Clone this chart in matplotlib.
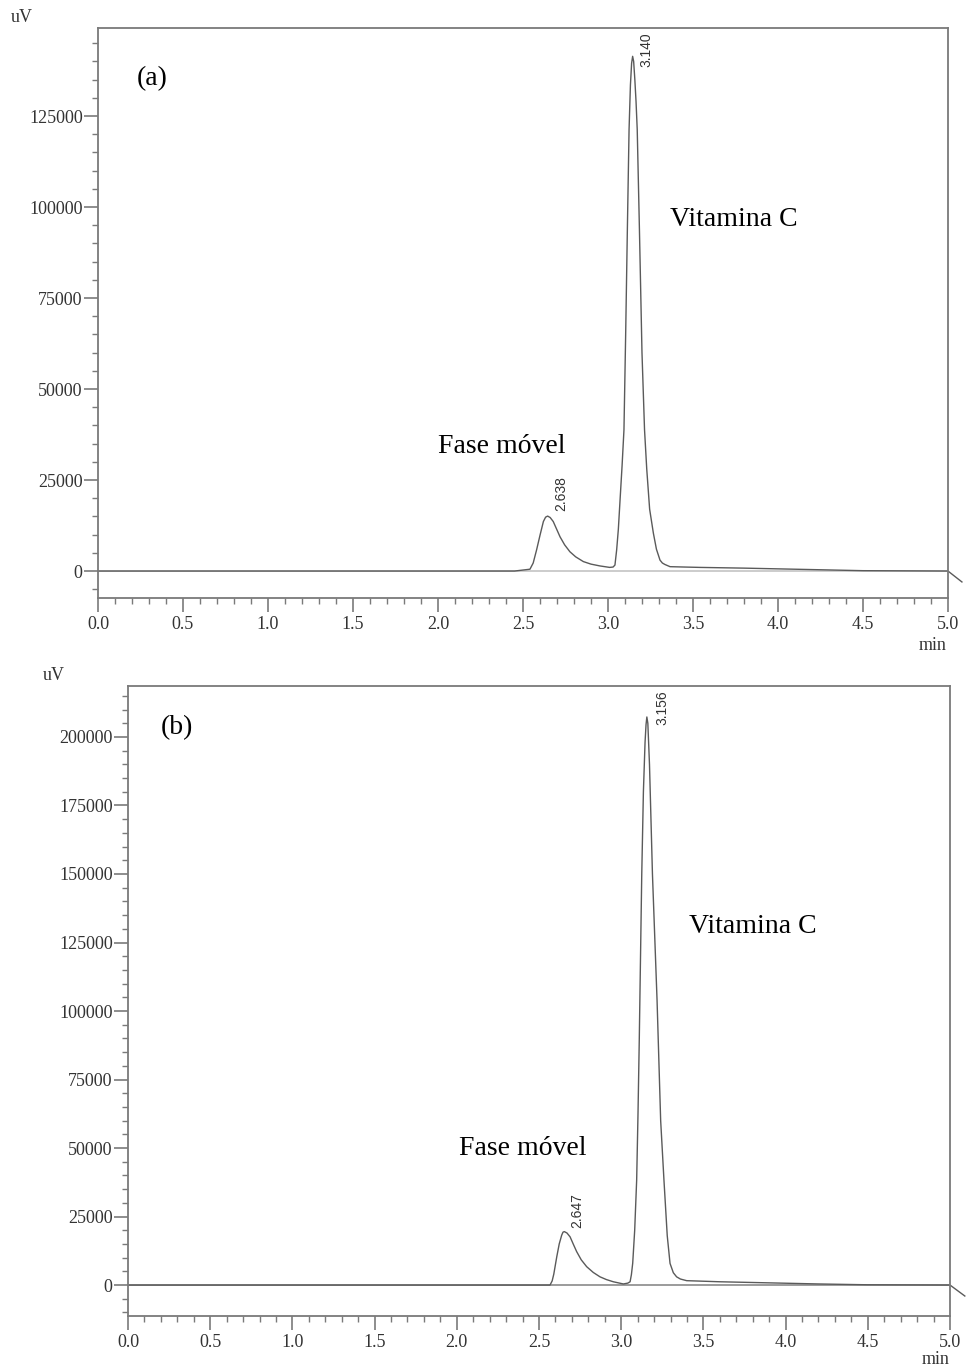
import numpy as np
import matplotlib
matplotlib.use("Agg")
import matplotlib.pyplot as plt
from matplotlib.ticker import MultipleLocator, FormatStrFormatter

# --- Chromatogram (a): retention time (min) vs signal (uV)
time_a = [0.0, 1.0, 2.0, 2.45, 2.541, 2.56, 2.58, 2.60, 2.62, 2.633, 2.645,
          2.66, 2.678, 2.698, 2.718, 2.745, 2.776, 2.81, 2.855, 2.90, 2.953,
          3.01, 3.03, 3.041, 3.051, 3.061, 3.071, 3.083, 3.094, 3.104, 3.114,
          3.124, 3.132, 3.139, 3.145, 3.151, 3.158, 3.165, 3.172, 3.185, 3.20,
          3.215, 3.228, 3.245, 3.267, 3.285, 3.306, 3.32, 3.335, 3.365, 3.45,
          3.54, 3.8, 4.0, 4.2, 4.5, 5.0, 5.082]
signal_a = [0, 0, 0, 0, 500, 2200, 5800, 9800, 13600, 14800, 15100,
            14700, 13600, 11500, 9400, 7200, 5300, 3900, 2600, 1900, 1400,
            1000, 1100, 1650, 5800, 11500, 19500, 29000, 38800, 65000, 93800,
            121300, 133500, 139500, 141400, 140000, 135000, 129000, 121300, 93800, 60000,
            38800, 28000, 17000, 10400, 6000, 3000, 2200, 1800, 1200, 1100,
            1000, 800, 600, 400, 100, 0, -3000]

# --- Chromatogram (b)
time_b = [0.0, 1.0, 2.0, 2.567, 2.58, 2.59, 2.608, 2.623, 2.638, 2.646, 2.654,
          2.67, 2.689, 2.708, 2.729, 2.757, 2.79, 2.83, 2.871, 2.91, 2.952,
          3.013, 3.04, 3.054, 3.062, 3.07, 3.082, 3.094, 3.102, 3.11, 3.125,
          3.135, 3.145, 3.151, 3.156, 3.162, 3.172, 3.19, 3.218, 3.24, 3.26,
          3.28, 3.297, 3.317, 3.337, 3.36, 3.398, 3.6, 3.9, 4.2, 4.5,
          5.0, 5.09]
signal_b = [0, 0, 0, 0, 1500, 4000, 10300, 15000, 18200, 19300, 19500,
            19000, 17600, 15000, 12200, 9200, 6700, 4600, 3000, 2000, 1200,
            400, 700, 1200, 3800, 8000, 20000, 38300, 62000, 90000, 150000,
            180000, 198000, 204500, 207300, 205000, 190000, 150000, 104000, 60000, 38300,
            18000, 7900, 4500, 3000, 2200, 1600, 1200, 800, 400, 100,
            0, -4000]

# Peak annotations: retention time label, label x, label base y
peaks_a = [("2.638", 2.724, 16500), ("3.140", 3.224, 138500)]
peaks_b = [("2.647", 2.73, 21000), ("3.156", 3.248, 204500)]

xticks = [0.0, 0.5, 1.0, 1.5, 2.0, 2.5, 3.0, 3.5, 4.0, 4.5, 5.0]

SERIF = "Liberation Serif"
SPINE = "#7a7a7a"
TXT = "#333333"

fig = plt.figure(figsize=(9.71, 13.69), dpi=100)
ax_a = fig.add_axes([0.1009, 0.5632, 0.8754, 0.4164])
ax_b = fig.add_axes([0.1318, 0.0387, 0.8466, 0.4602])


def style_axes(ax, ylim):
    ax.set_xlim(0, 5.0)
    ax.set_ylim(*ylim)
    ax.set_xticks(xticks)
    ax.set_xticklabels([f"{v:.1f}" for v in xticks])
    ax.xaxis.set_minor_locator(MultipleLocator(0.1))
    ax.yaxis.set_major_locator(MultipleLocator(25000))
    ax.yaxis.set_minor_locator(MultipleLocator(5000))
    ax.yaxis.set_major_formatter(FormatStrFormatter("%d"))
    ax.tick_params(which="major", direction="out", length=10, width=1.2,
                   color=SPINE, labelsize=13, labelcolor=TXT, pad=1)
    ax.tick_params(which="minor", direction="out", length=4, width=1.0,
                   color=SPINE)
    ax.tick_params(axis="x", which="major", pad=3)
    for lab in ax.get_xticklabels() + ax.get_yticklabels():
        lab.set_fontfamily(SERIF)
    for sp in ax.spines.values():
        sp.set_color(SPINE)
        sp.set_linewidth(1.3)


def draw(ax, t, s, peaks, ylim, tag, tag_xy, vit_xy, fase_xy, base_color):
    style_axes(ax, ylim)
    ax.axhline(0, color=base_color, lw=1.2, zorder=1)
    ax.plot(t, s, color="#5a5a5a", lw=1.0, clip_on=False, zorder=2)
    for lab, x, y in peaks:
        ax.text(x, y, lab, rotation=90, ha="center", va="bottom",
                fontsize=10, family="Liberation Sans", color=TXT)
    ax.text(*tag_xy, tag, fontsize=20, family=SERIF, ha="center", va="center")
    ax.text(*vit_xy, "Vitamina C", fontsize=20, family=SERIF,
            ha="center", va="center")
    ax.text(*fase_xy, "Fase móvel", fontsize=20, family=SERIF,
            ha="center", va="center")


draw(ax_a, time_a, signal_a, peaks_a, (-7400, 149200), "(a)",
     (0.318, 135200), (3.74, 96700), (2.376, 34300), "#c4c4c4")
draw(ax_b, time_b, signal_b, peaks_b, (-11300, 218600), "(b)",
     (0.30, 203300), (3.80, 130700), (2.40, 50000), "#8a8a8a")

# Axis unit labels
fig.text(22 / 971, 1 - 17 / 1369, "uV", fontsize=13, family=SERIF,
         color=TXT, ha="center", va="center")
fig.text(933 / 971, 1 - 645 / 1369, "min", fontsize=13, family=SERIF,
         color=TXT, ha="center", va="center")
fig.text(54 / 971, 1 - 676 / 1369, "uV", fontsize=13, family=SERIF,
         color=TXT, ha="center", va="center")
fig.text(936 / 971, 1 - 1360 / 1369, "min", fontsize=13, family=SERIF,
         color=TXT, ha="center", va="center")

fig.savefig("out.png", dpi=100, facecolor="white")
